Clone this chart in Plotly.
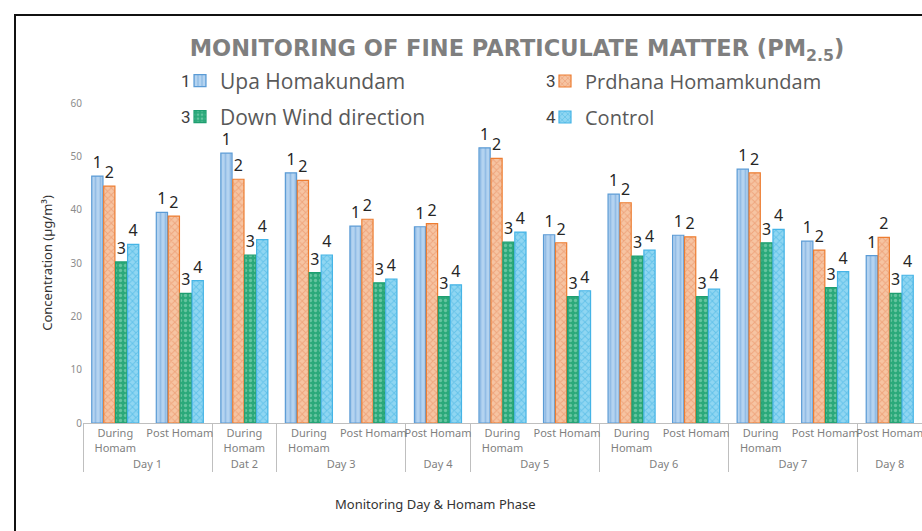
import plotly.graph_objects as go

days = ["Day 1", "Day 1", "Dat 2", "Day 3", "Day 3", "Day 4", "Day 5", "Day 5",
        "Day 6", "Day 6", "Day 7", "Day 7", "Day 8"]
phases = ["During<br>Homam", "Post Homam", "During<br>Homam", "During<br>Homam", "Post Homam",
          "Post Homam", "During<br>Homam", "Post Homam", "During<br>Homam", "Post Homam",
          "During<br>Homam", "Post Homam", "Post Homam"]

upa = [46.3, 39.5, 50.6, 46.9, 36.9, 36.8, 51.6, 35.3, 42.9, 35.2, 47.6, 34.1, 31.4]
pradhana = [44.4, 38.8, 45.7, 45.5, 38.2, 37.4, 49.6, 33.8, 41.3, 34.9, 46.9, 32.4, 34.8]
downwind = [30.2, 24.3, 31.5, 28.2, 26.3, 23.7, 33.9, 23.7, 31.3, 23.7, 33.8, 25.4, 24.3]
control = [33.5, 26.7, 34.4, 31.5, 27.0, 25.9, 35.8, 24.8, 32.4, 25.1, 36.3, 28.4, 27.7]

series_names = ["Upa Homakundam", "Prdhana Homamkundam", "Down Wind direction", "Control"]
series_labels = ["1", "2", "3", "4"]
legend_prefix = ["1", "3", "3", "4"]

styles = [
    dict(bg="#B4D3F0", fg="#6FA6DA", line="#5B9BD5", shape="|"),
    dict(bg="#F6C4A2", fg="#E8875A", line="#ED7D31", shape="x"),
    dict(bg="#2BA97A", fg="#9FE0C4", line="#1E9E70", shape="."),
    dict(bg="#8FD6F2", fg="#3AAEE0", line="#45B4E6", shape="x"),
]

x = [days, phases]
fig = go.Figure()
legend_ids = ["legend", "legend2", "legend3", "legend4"]
for vals, name, lab, st, lid in zip([upa, pradhana, downwind, control], series_names,
                                    series_labels, styles, legend_ids):
    fig.add_trace(go.Bar(
        x=x, y=vals, name=name, showlegend=True,
        text=[lab] * len(vals), textposition="outside", cliponaxis=False,
        textfont=dict(size=16, color="#262626", family="Noto Sans"),
        marker=dict(color=st["bg"], line=dict(color=st["line"], width=1.2),
                    pattern=dict(shape=st["shape"], fgcolor=st["fg"], bgcolor=st["bg"],
                                 size=5, solidity=0.35)),
        legend=lid,
    ))

L, R, T, B = 83, 0, 103, 108
W, H = 922, 531
pw = W - L - R
ph = H - T - B

def px2x(p):
    return (p - L) / pw

def py2y(p):
    return (H - B - p) / ph

leg_pos = [(180, 81), (545, 81), (180, 117), (545, 117)]
num_pos = [(193, 81), (558, 81), (193, 117), (558, 117)]
leg_size = [21, 20, 21, 20]
legend_layout = {}
for lid, (lx, ly), fs in zip(legend_ids, leg_pos, leg_size):
    legend_layout[lid] = dict(x=px2x(lx), y=py2y(ly), xanchor="left", yanchor="middle",
                              bgcolor="rgba(0,0,0,0)", itemwidth=30,
                              font=dict(size=fs, color="#595959", family="Open Sans"))

annotations = []
for pref, (lx, ly) in zip(legend_prefix, num_pos):
    annotations.append(dict(text=pref, x=px2x(lx), y=py2y(ly), xref="paper", yref="paper",
                            xanchor="right", yanchor="middle", showarrow=False,
                            font=dict(size=17, color="#404040", family="Roboto")))
annotations.append(dict(text="Monitoring Day & Homam Phase", x=px2x(435), y=py2y(504),
                        xref="paper", yref="paper", xanchor="center", yanchor="middle",
                        showarrow=False, font=dict(size=13, color="#333333", family="Noto Sans")))

fig.update_layout(
    width=W, height=H,
    margin=dict(l=L, r=R, t=T, b=B),
    paper_bgcolor="white", plot_bgcolor="white",
    barmode="group", bargap=0.26, bargroupgap=0.06,
    title=dict(text="MONITORING OF FINE PARTICULATE MATTER (PM<sub>2.5</sub>)",
               x=517 / W, xanchor="center", y=1 - 48 / H, yanchor="middle",
               font=dict(size=22.5, color="#7F7F7F", family="DejaVu Sans", weight="bold")),
    annotations=annotations,
    shapes=[dict(type="rect", xref="paper", yref="paper",
                 x0=px2x(15), x1=px2x(940), y0=py2y(15), y1=py2y(560),
                 line=dict(color="#111111", width=2), fillcolor="rgba(0,0,0,0)", layer="below")],
    **legend_layout,
)
fig.update_yaxes(range=[0, 60], dtick=10, showgrid=False, zeroline=False, showline=False,
                 tickfont=dict(size=10, color="#8C8C8C", family="Noto Sans"),
                 title=dict(text="Concentration (µg/m³)", standoff=14,
                            font=dict(size=13, color="#333333", family="Noto Sans")))
fig.update_xaxes(type="multicategory", showline=True, linecolor="#BFBFBF", linewidth=1,
                 tickangle=0,
                 showdividers=True, dividercolor="#BFBFBF", dividerwidth=1,
                 tickfont=dict(size=11, color="#7F7F7F", family="Noto Sans"))

fig.write_html("out.html")
